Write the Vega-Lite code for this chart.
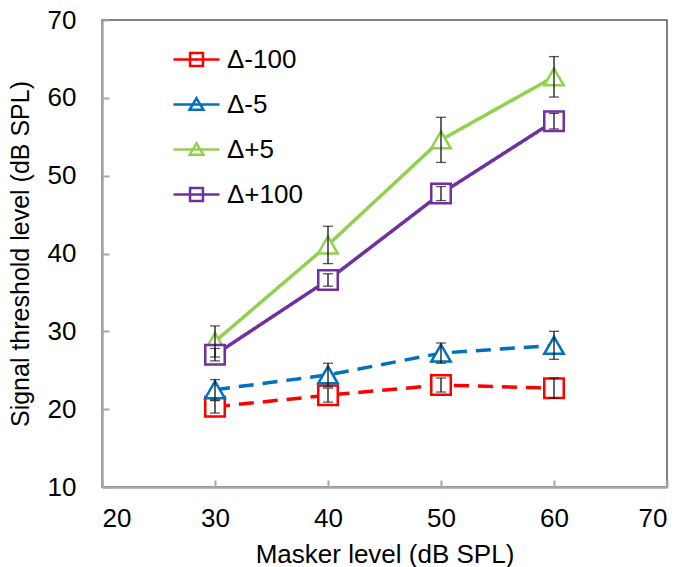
{
  "$schema": "https://vega.github.io/schema/vega-lite/v6.json",
  "width": 565,
  "height": 467,
  "autosize": {"type": "none"},
  "padding": {"left": 102, "top": 20, "right": 16, "bottom": 80},
  "background": "white",
  "config": {
    "view": {"stroke": "#595959", "strokeWidth": 1.5},
    "font": "Liberation Sans",
    "axis": {
      "grid": false,
      "domainColor": "#a6a6a6",
      "domainWidth": 2.5,
      "tickColor": "#a6a6a6",
      "tickWidth": 2,
      "tickSize": -7,
      "labelFont": "Liberation Sans",
      "labelFontSize": 26,
      "labelColor": "#000000",
      "titleFont": "Liberation Sans",
      "titleFontSize": 26,
      "titleFontWeight": "normal",
      "titleColor": "#000000"
    }
  },
  "data": {
    "values": [
      {"series": "Δ-100", "dash": "d", "sym": "sq", "x": 30, "y": 20.3, "lo": 19.5, "hi": 21.1},
      {"series": "Δ-100", "dash": "d", "sym": "sq", "x": 40, "y": 21.8, "lo": 20.9, "hi": 22.7},
      {"series": "Δ-100", "dash": "d", "sym": "sq", "x": 50, "y": 23.1, "lo": 22.2, "hi": 24.0},
      {"series": "Δ-100", "dash": "d", "sym": "sq", "x": 60, "y": 22.7, "lo": 21.4, "hi": 24.0},
      {"series": "Δ-5", "dash": "d", "sym": "tri", "x": 30, "y": 22.5, "lo": 21.2, "hi": 23.8},
      {"series": "Δ-5", "dash": "d", "sym": "tri", "x": 40, "y": 24.4, "lo": 22.9, "hi": 25.9},
      {"series": "Δ-5", "dash": "d", "sym": "tri", "x": 50, "y": 27.2, "lo": 25.9, "hi": 28.5},
      {"series": "Δ-5", "dash": "d", "sym": "tri", "x": 60, "y": 28.2, "lo": 26.4, "hi": 30.0},
      {"series": "Δ+5", "dash": "s", "sym": "tri", "x": 30, "y": 28.7, "lo": 26.7, "hi": 30.7},
      {"series": "Δ+5", "dash": "s", "sym": "tri", "x": 40, "y": 41.1, "lo": 38.7, "hi": 43.5},
      {"series": "Δ+5", "dash": "s", "sym": "tri", "x": 50, "y": 54.6, "lo": 51.7, "hi": 57.5},
      {"series": "Δ+5", "dash": "s", "sym": "tri", "x": 60, "y": 62.7, "lo": 60.1, "hi": 65.3},
      {"series": "Δ+100", "dash": "s", "sym": "sq", "x": 30, "y": 27.0, "lo": 26.2, "hi": 27.8},
      {"series": "Δ+100", "dash": "s", "sym": "sq", "x": 40, "y": 36.6, "lo": 35.8, "hi": 37.4},
      {"series": "Δ+100", "dash": "s", "sym": "sq", "x": 50, "y": 47.7, "lo": 46.8, "hi": 48.6},
      {"series": "Δ+100", "dash": "s", "sym": "sq", "x": 60, "y": 57.0, "lo": 56.0, "hi": 58.0}
    ]
  },
  "encoding": {
    "x": {
      "field": "x", "type": "quantitative",
      "scale": {"domain": [20, 70], "nice": false, "zero": false},
      "axis": {"values": [20, 30, 40, 50, 60, 70], "title": "Masker level (dB SPL)", "labelPadding": 25, "titlePadding": 10}
    },
    "y": {
      "field": "y", "type": "quantitative",
      "scale": {"domain": [10, 70], "nice": false, "zero": false},
      "axis": {"values": [10, 20, 30, 40, 50, 60, 70], "title": "Signal threshold level (dB SPL)", "titleFontSize": 25, "labelPadding": 33, "titlePadding": 14}
    }
  },
  "layer": [
    {
      "mark": {"type": "line", "strokeWidth": 3.5},
      "encoding": {
        "color": {
          "field": "series", "type": "nominal",
          "scale": {"domain": ["Δ-100", "Δ-5", "Δ+5", "Δ+100"], "range": ["#ff0000", "#0070c0", "#92d050", "#7030a0"]},
          "legend": {
            "title": null,
            "orient": "none",
            "legendX": 70,
            "legendY": 15,
            "padding": 0,
            "symbolType": {"expr": "(datum.label == 'Δ-100' || datum.label == 'Δ+100') ? 'M-1,0L1,0M-0.28,-0.28L0.28,-0.28L0.28,0.28L-0.28,0.28Z' : 'M-1,0L1,0M0,-0.27L0.3,0.23L-0.3,0.23Z'"},
            "symbolSize": 2116,
            "symbolStrokeWidth": 2.5,
            "symbolFillColor": "transparent",
            "labelFontSize": 26,
            "labelFont": "Liberation Sans",
            "labelColor": "#000000",
            "labelOffset": 6,
            "rowPadding": 7
          }
        },
        "strokeDash": {
          "field": "dash", "type": "nominal",
          "scale": {"domain": ["d", "s"], "range": [[15, 9], [1, 0]]},
          "legend": null
        }
      }
    },
    {
      "mark": {"type": "point", "filled": false, "strokeWidth": 2.5, "size": 380, "opacity": 1},
      "encoding": {
        "color": {"field": "series", "type": "nominal", "legend": null},
        "shape": {
          "field": "sym", "type": "nominal",
          "scale": {"domain": ["sq", "tri"], "range": ["square", "triangle-up"]},
          "legend": null
        },
        "fill": {"value": "white"}
      }
    },
    {
      "mark": {"type": "rule", "color": "#111111", "strokeWidth": 1.3},
      "encoding": {
        "y": {"field": "lo", "type": "quantitative"},
        "y2": {"field": "hi"}
      }
    },
    {
      "mark": {"type": "tick", "orient": "horizontal", "color": "#111111", "thickness": 1.3, "size": 10},
      "encoding": {"y": {"field": "lo", "type": "quantitative"}}
    },
    {
      "mark": {"type": "tick", "orient": "horizontal", "color": "#111111", "thickness": 1.3, "size": 10},
      "encoding": {"y": {"field": "hi", "type": "quantitative"}}
    }
  ]
}
